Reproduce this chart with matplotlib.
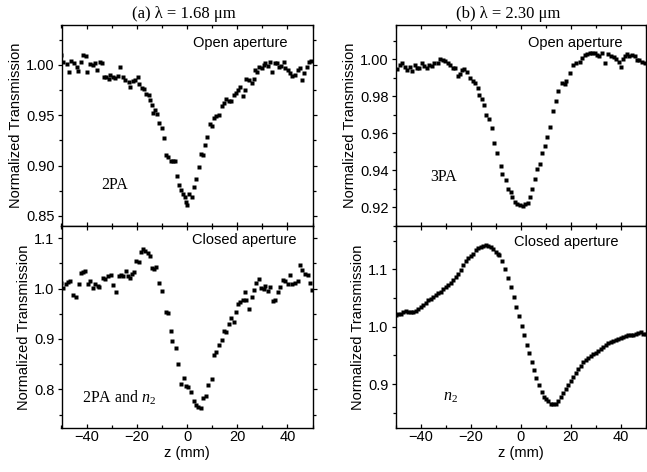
import numpy as np
import matplotlib
matplotlib.use("Agg")
import matplotlib.pyplot as plt
from matplotlib.ticker import MultipleLocator, FormatStrFormatter

plt.rcParams['font.family'] = ['Liberation Sans', 'DejaVu Sans']
plt.rcParams['mathtext.fontset'] = 'custom'
plt.rcParams['mathtext.rm'] = 'Liberation Serif'
plt.rcParams['mathtext.it'] = 'Liberation Serif:italic'

# (a) 1.68 um, open aperture (2PA)
z_a_open = [-50, -49.4, -48, -47, -46.3, -45.2, -44, -43.5, -42.4, -41.3, -40.4, -39.8,
            -38.7, -37.4, -36.5, -35.8, -34.8, -33.9, -33.2, -32.2, -31.2, -30.6, -29.5,
            -28.6, -27.3, -26.6, -25.5, -24.6, -23.3, -22.6, -21.6, -20.7, -19.7, -19,
            -18, -17.1, -16.3, -15.3, -14.7, -14, -13.4, -12.7, -11.8, -11, -10.1, -9.1,
            -8.3, -7.4, -6.5, -5.4, -4.8, -3.8, -3, -2.5, -1.7, -0.8, -0.3, 0.1, 0.8, 1.9,
            2.8, 3.7, 4.8, 5.4, 6.3, 7.1, 8.1, 9, 10, 10.7, 11.4, 12.7, 13.8, 14.7, 15.6,
            16.7, 17.7, 18.7, 19.6, 20.4, 21.3, 22.2, 23, 23.6, 24.6, 25.7, 26.6, 27.2,
            27.9, 28.8, 29.9, 30.6, 31.2, 32.3, 33.2, 33.9, 35, 35.8, 36.5, 37.6, 38.5,
            39.2, 40.2, 41.1, 42, 43.1, 44.2, 45.1, 45.8, 46.8, 47.8, 48.7, 49.5]
t_a_open = [1.010, 1.003, 1.001, 0.993, 1.004, 1.002, 0.998, 0.994, 1.003, 1.010, 1.009, 0.993,
            1.001, 1.000, 1.002, 0.995, 1.003, 1.002, 0.988, 0.988, 0.986, 0.990, 0.988,
            0.987, 0.989, 0.998, 0.988, 0.985, 0.983, 0.978, 0.984, 0.985, 0.988, 0.981,
            0.977, 0.976, 0.971, 0.970, 0.965, 0.960, 0.952, 0.955, 0.951, 0.942, 0.937, 0.927,
            0.911, 0.909, 0.905, 0.905, 0.905, 0.890, 0.881, 0.876, 0.872, 0.869, 0.864, 0.861,
            0.872, 0.869, 0.879, 0.887, 0.899, 0.912, 0.911, 0.920, 0.928, 0.941, 0.939, 0.947,
            0.949, 0.950, 0.959, 0.962, 0.966, 0.964, 0.964, 0.970, 0.972, 0.975, 0.978, 0.969,
            0.975, 0.986, 0.985, 0.982, 0.986, 0.995, 0.993, 0.998, 0.997, 1.000, 1.002, 0.999,
            1.003, 0.993, 1.002, 1.002, 0.998, 0.999, 1.003, 0.997, 0.995, 0.992, 0.989, 0.990,
            0.995, 0.997, 0.985, 0.992, 0.998, 1.003, 1.004]

# (a) 1.68 um, closed aperture (2PA and n2)
z_a_closed = [-50.1, -49.5, -48.4, -47.5, -46.6, -45.5, -44.4, -43.1, -42.2, -41.3, -40.5,
              -39.6, -38.6, -37.6, -36.5, -35.6, -34.9, -33.6, -32.5, -31.6, -30.3, -29.4,
              -28.3, -27.2, -26.3, -25.4, -24.3, -23.7, -22.8, -22, -21, -20.4, -19.3, -18.4,
              -17.5, -16.7, -15.7, -14.8, -13.8, -13, -12.2, -11.1, -10.1, -8.5, -7.4, -6.5,
              -5.8, -4.5, -3.4, -2.5, -1.2, -0.5, 0.5, 1.5, 2.8, 3.7, 4.5, 5.4, 6.3, 7.4, 8.5,
              9.8, 10.7, 11.6, 12.7, 13.8, 14.7, 15.6, 16.7, 17.7, 18.7, 19.6, 20.4, 21.3, 22.2,
              23, 23.5, 24.6, 25.7, 26.6, 27.5, 28.6, 29.6, 30.6, 31.2, 32.3, 33.2, 34.1, 35.2,
              36.2, 37.2, 38.1, 39.2, 40.2, 41.1, 42, 43.1, 44.2, 45.1, 46, 47.1, 48.1, 49.1, 49.7]
t_a_closed = [1.011, 1.002, 1.008, 1.013, 1.015, 0.987, 0.984, 1.008, 1.030, 1.032, 1.034,
              1.008, 1.015, 1.002, 1.008, 1.006, 1.004, 1.021, 1.019, 1.024, 1.026, 1.007,
              0.994, 1.024, 1.027, 1.024, 1.035, 1.024, 1.021, 1.028, 1.032, 1.055, 1.052, 1.072,
              1.079, 1.075, 1.070, 1.064, 1.040, 1.039, 1.042, 1.010, 0.996, 0.953, 0.951, 0.915,
              0.896, 0.883, 0.850, 0.810, 0.822, 0.807, 0.805, 0.795, 0.777, 0.770, 0.766, 0.763,
              0.782, 0.787, 0.808, 0.820, 0.868, 0.875, 0.888, 0.898, 0.915, 0.913, 0.929, 0.941,
              0.934, 0.953, 0.969, 0.973, 0.977, 0.993, 0.977, 0.960, 0.984, 0.997, 1.011, 1.019,
              1.002, 0.999, 1.006, 0.996, 1.004, 0.975, 0.977, 0.994, 1.004, 1.017, 1.015, 1.008,
              1.026, 1.008, 1.010, 1.015, 1.047, 1.037, 1.028, 1.027, 1.010, 0.997]

# (b) 2.30 um, open aperture (3PA)
z_b_open = [-49.5, -48.4, -47.3, -46.4, -45.5, -44.4, -43.4, -42.4, -41.5, -40.5, -39.4,
            -38.5, -37.5, -36.5, -35.4, -34.5, -33.2, -32.2, -31.2, -30.1, -29.2, -28.3,
            -27.2, -26.1, -25.2, -24.3, -23.5, -22.5, -21.6, -20.3, -19.2, -18.2, -17.2,
            -16.6, -15.5, -14.6, -13.7, -12.6, -11.5, -10.6, -9.3, -8, -7.3, -5.9, -4.9, -4,
            -3.3, -2.3, -1.3, -0.4, 0.7, 1.7, 2.7, 3.6, 4.6, 5.7, 6.6, 7.6, 8.6, 9.7, 10.6,
            11.5, 12.9, 13.9, 15, 16.3, 17.6, 18.2, 19.5, 20.8, 22.2, 23.5, 24.5, 25.6, 26.5,
            27.5, 28.5, 29.6, 30.5, 31.4, 32.5, 33.8, 34.9, 36.2, 37.1, 38.1, 39.1, 40.2,
            40.7, 41.5, 42.4, 43.4, 44.4, 45.5, 46.4, 47.3, 48.4, 49.5]
t_b_open = [0.9946, 0.9968, 0.9977, 0.9959, 0.9941, 0.9959, 0.9937, 0.9968, 0.9953, 0.9950,
            0.9977, 0.9962, 0.9950, 0.9968, 0.9962, 0.9977, 0.9980, 0.9998, 0.9995, 0.9991,
            0.9977, 0.9968, 0.9950, 0.9950, 0.9908, 0.9919, 0.9941, 0.9944, 0.9932, 0.9896,
            0.9883, 0.9869, 0.9842, 0.9806, 0.9782, 0.9752, 0.9698, 0.9675, 0.9626, 0.9549,
            0.9495, 0.9423, 0.9380, 0.9347, 0.9297, 0.9284, 0.9257, 0.9230, 0.9218, 0.9213,
            0.9207, 0.9218, 0.9222, 0.9254, 0.9297, 0.9356, 0.9405, 0.9434, 0.9495, 0.9531,
            0.9578, 0.9635, 0.9721, 0.9775, 0.9829, 0.9872, 0.9865, 0.9883, 0.9926, 0.9968,
            0.9977, 0.9986, 1.0004, 1.0022, 1.0027, 1.0034, 1.0034, 1.0031, 1.0022, 1.0016,
            1.0031, 0.9980, 1.0027, 1.0016, 1.0013, 0.9998, 0.9986, 0.9959, 0.9998, 1.0016,
            1.0027, 1.0016, 1.0022, 1.0016, 0.9995, 0.9995, 0.9986, 0.9977]

# (b) 2.30 um, closed aperture (n2)
z_b_closed = [-50, -49, -48, -47, -46, -45, -44, -43, -42, -41, -40, -39, -38, -37, -36, -35,
              -34, -33, -32, -31, -30, -29, -28, -27, -26, -25, -24, -23, -22, -21, -20, -19,
              -18, -17, -16, -15, -14, -13, -12, -11, -10, -9, -8.6, -7.6, -6.2, -4.9, -4,
              -2.7, -1.7, -0.7, 0.3, 1.3, 2.3, 3.3, 4.4, 5.3, 6.2, 7.3, 8.4, 9.3, 10, 11, 12,
              13, 14, 15, 16, 17, 18, 19, 20, 21, 22, 23, 24, 25, 26, 27, 28, 29, 30, 31, 32,
              33, 34, 35, 36, 37, 38, 39, 40, 41, 42, 43, 44, 45, 46, 47, 48, 49, 50]
t_b_closed = [1.020, 1.022, 1.023, 1.025, 1.027, 1.026, 1.025, 1.025, 1.028, 1.031, 1.034,
              1.038, 1.042, 1.046, 1.049, 1.052, 1.055, 1.058, 1.061, 1.066, 1.070, 1.073,
              1.077, 1.081, 1.086, 1.092, 1.099, 1.107, 1.114, 1.119, 1.123, 1.127, 1.133,
              1.137, 1.139, 1.141, 1.142, 1.141, 1.139, 1.135, 1.130, 1.127, 1.125, 1.1145,
              1.1006, 1.0843, 1.070, 1.052, 1.035, 1.019, 1.002, 0.986, 0.968, 0.954, 0.939,
              0.924, 0.910, 0.898, 0.887, 0.878, 0.874, 0.870, 0.866, 0.865, 0.866, 0.870,
              0.877, 0.884, 0.891, 0.898, 0.905, 0.912, 0.919, 0.926, 0.932, 0.938, 0.942,
              0.946, 0.949, 0.952, 0.955, 0.958, 0.962, 0.965, 0.968, 0.971, 0.973, 0.975,
              0.977, 0.978, 0.980, 0.982, 0.984, 0.985, 0.985, 0.986, 0.987, 0.989, 0.990,
              0.988, 0.987]

W, H = 647, 472
fig = plt.figure(figsize=(W / 100, H / 100), dpi=100)


def box(x0, y0, x1, y1):
    # pixel box (top-left origin) -> figure fraction
    return [x0 / W, 1 - y1 / H, (x1 - x0) / W, (y1 - y0) / H]


ax_a1 = fig.add_axes(box(61.5, 25.3, 312.5, 226))
ax_a2 = fig.add_axes(box(61.5, 226, 312.5, 427.7))
ax_b1 = fig.add_axes(box(395.5, 25.3, 646, 226))
ax_b2 = fig.add_axes(box(395.5, 226, 646, 427.7))

panels = [
    (ax_a1, z_a_open, t_a_open, (0.840, 1.0394), 0.05, 0.025, '%.2f'),
    (ax_a2, z_a_closed, t_a_closed, (0.724, 1.124), 0.1, 0.05, '%.1f'),
    (ax_b1, z_b_open, t_b_open, (0.910, 1.0182), 0.02, 0.01, '%.2f'),
    (ax_b2, z_b_closed, t_b_closed, (0.824, 1.1755), 0.1, 0.05, '%.1f'),
]

for ax, z, t, ylim, major, minor, fmt in panels:
    ax.plot(z, t, 's', color='black', ms=3.4, mec='none')
    ax.set_xlim(-50, 50)
    ax.set_ylim(*ylim)
    ax.xaxis.set_major_locator(MultipleLocator(20))
    ax.xaxis.set_minor_locator(MultipleLocator(10))
    ax.yaxis.set_major_locator(MultipleLocator(major))
    ax.yaxis.set_minor_locator(MultipleLocator(minor))
    ax.yaxis.set_major_formatter(FormatStrFormatter(fmt))
    ax.tick_params(which='both', top=True, right=True, direction='in',
                   labelsize=10.5, pad=2, width=0.9)
    ax.tick_params(axis='y', which='both', left=True, direction='out')
    ax.tick_params(which='major', length=3)
    ax.tick_params(which='minor', length=2.5)
    for s in ax.spines.values():
        s.set_linewidth(1.0)
    ax.set_ylabel('Normalized Transmission', fontsize=10.5, labelpad=2)

for ax in (ax_a1, ax_b1):
    ax.tick_params(axis='x', labelbottom=False)
for ax in (ax_a2, ax_b2):
    ax.set_xlabel('z (mm)', fontsize=10.5, labelpad=1)

ax_a1.text(0.902, 0.91, 'Open aperture', transform=ax_a1.transAxes, ha='right',
           va='center', fontsize=10.5)
ax_b1.text(0.908, 0.91, 'Open aperture', transform=ax_b1.transAxes, ha='right',
           va='center', fontsize=10.5)
ax_a2.text(0.938, 0.93, 'Closed aperture', transform=ax_a2.transAxes, ha='right',
           va='center', fontsize=10.5)
ax_b2.text(0.892, 0.92, 'Closed aperture', transform=ax_b2.transAxes, ha='right',
           va='center', fontsize=10.5)

serif = ['Liberation Serif', 'DejaVu Serif']
ax_a1.text(0.16, 0.205, '2PA', transform=ax_a1.transAxes, family=serif, fontsize=11.5,
           va='center')
ax_b1.text(0.14, 0.245, '3PA', transform=ax_b1.transAxes, family=serif, fontsize=11.5,
           va='center')
ax_a2.text(0.08, 0.15, '2PA and $n_2$', transform=ax_a2.transAxes, family=serif,
           fontsize=11.5, va='center')
ax_b2.text(0.19, 0.15, '$n_2$', transform=ax_b2.transAxes, family=serif,
           fontsize=11.5, va='center')

fig.text(184 / W, 1 - 14 / H, '(a) λ = 1.68 μm', family=serif, fontsize=12,
         ha='center', va='center')
fig.text(508 / W, 1 - 14 / H, '(b) λ = 2.30 μm', family=serif, fontsize=12,
         ha='center', va='center')

fig.savefig('out.png', dpi=100)
